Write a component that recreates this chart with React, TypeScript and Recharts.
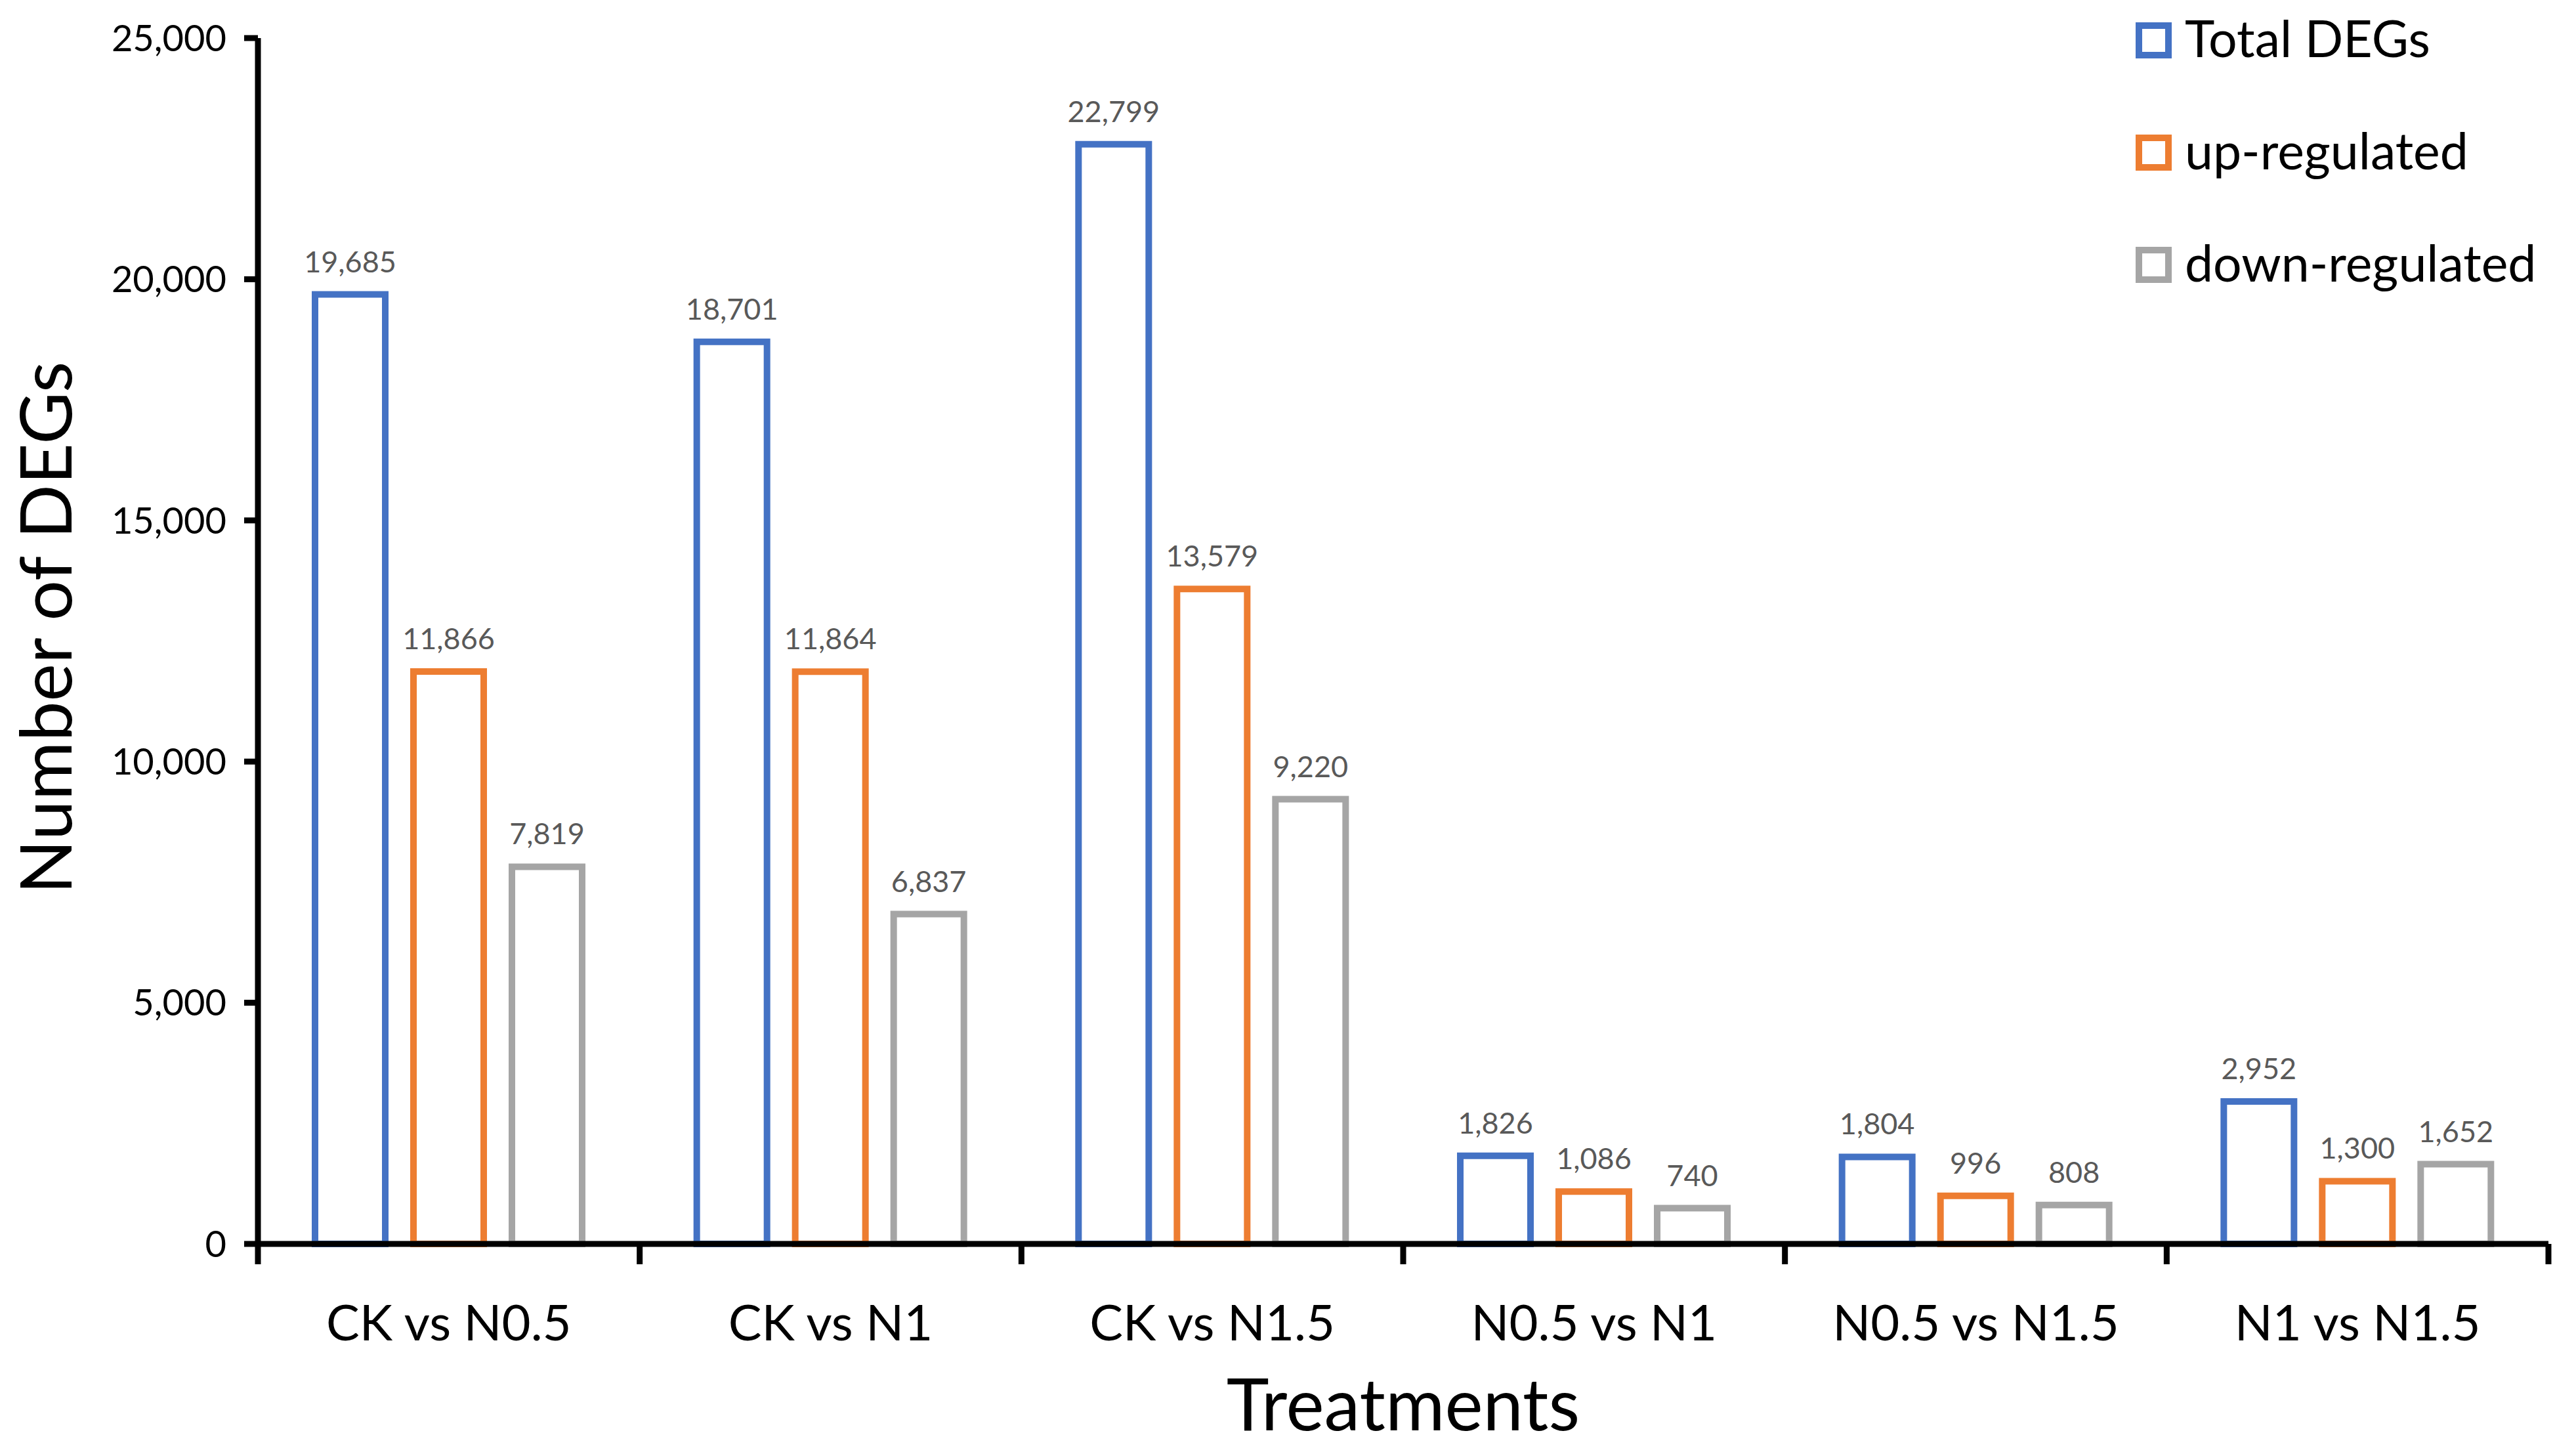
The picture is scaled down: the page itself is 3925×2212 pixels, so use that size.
import React from "react";
import { BarChart, Bar, XAxis, YAxis, Legend, LabelList, Label } from "recharts";

const categories = ["CK vs N0.5", "CK vs N1", "CK vs N1.5", "N0.5 vs N1", "N0.5 vs N1.5", "N1 vs N1.5"];
const totalDegs = [19685, 18701, 22799, 1826, 1804, 2952];
const upRegulated = [11866, 11864, 13579, 1086, 996, 1300];
const downRegulated = [7819, 6837, 9220, 740, 808, 1652];
const yTicks = [0, 5000, 10000, 15000, 20000, 25000];

const series = [
  { key: "total", name: "Total DEGs", color: "#4472C4" },
  { key: "up", name: "up-regulated", color: "#ED7D31" },
  { key: "down", name: "down-regulated", color: "#A5A5A5" },
];

const data = categories.map((name, i) => ({
  name,
  total: totalDegs[i],
  up: upRegulated[i],
  down: downRegulated[i],
}));

const W = 3925;
const H = 2212;
const margin = { top: 58, right: 42, left: 0, bottom: 0 };
const Y_AXIS_W = 393;
const X_AXIS_H = 317;
const plotWidth = W - margin.left - margin.right - Y_AXIS_W;
const band = plotWidth / categories.length;

const fmt = (v: any) => Number(v).toLocaleString("en-US");

// category labels centred, tick marks on the category boundaries
function CategoryTick(props: any) {
  const { x, y, index, payload } = props;
  const last = index === categories.length - 1;
  return (
    <g>
      <line x1={x - band / 2} x2={x - band / 2} y1={y} y2={y + 31} stroke="#000" strokeWidth={9} />
      {last && <line x1={x + band / 2} x2={x + band / 2} y1={y} y2={y + 31} stroke="#000" strokeWidth={9} />}
      <text x={x} y={y + 147} textAnchor="middle" fontSize={76} fill="#000">
        {payload.value}
      </text>
    </g>
  );
}

function LegendBox(props: any) {
  const payload = [...(props.payload ?? [])];
  const order = (e: any) => series.findIndex((s) => s.key === e.dataKey);
  payload.sort((a, b) => order(a) - order(b));
  return (
    <svg width={685} height={460} style={{ fontFamily: "Lato" }}>
      {payload.map((entry: any, i: number) => {
        const s = series.find((d) => d.key === entry.dataKey) ?? series[i];
        return (
          <g key={s.key}>
            <rect x={19} y={39 + i * 171} width={45} height={45} fill="none" stroke={s.color} strokeWidth={10} />
            <text x={89} y={87 + i * 171} fontSize={77} fill="#000">
              {entry.value}
            </text>
          </g>
        );
      })}
    </svg>
  );
}

export default function App() {
  return (
    <div style={{ position: "absolute", left: 0, top: 0, width: W, height: H, background: "#fff", fontFamily: "Lato" }}>
      <BarChart width={W} height={H} data={data} margin={margin} barSize={107} barGap={43}>
        <XAxis
          dataKey="name"
          height={X_AXIS_H}
          axisLine={{ stroke: "#000", strokeWidth: 9 }}
          tickLine={false}
          tickSize={0}
          tickMargin={0}
          tick={<CategoryTick />}
          interval={0}
        >
          <Label value="Treatments" position="insideBottom" offset={33} fontSize={110} fill="#000" />
        </XAxis>
        <YAxis
          width={Y_AXIS_W}
          domain={[0, 25000]}
          ticks={yTicks}
          tickFormatter={fmt}
          axisLine={{ stroke: "#000", strokeWidth: 9 }}
          tickLine={{ stroke: "#000", strokeWidth: 9 }}
          tickSize={21}
          tickMargin={27}
          tick={{ fontSize: 56, fill: "#000" }}
        >
          <Label
            value="Number of DEGs"
            angle={-90}
            position="center"
            dx={70 - Y_AXIS_W / 2}
            dy={-20}
            fontSize={109}
            fill="#000"
          />
        </YAxis>
        <Legend
          layout="vertical"
          align="center"
          verticalAlign="middle"
          itemSorter={null as any}
          content={<LegendBox />}
          wrapperStyle={{ left: 3240, top: 0, width: 685, height: 460 }}
        />
        {series.map((s) => (
          <Bar key={s.key} dataKey={s.key} name={s.name} fill="none" stroke={s.color} strokeWidth={10} isAnimationActive={false}>
            <LabelList dataKey={s.key} position="top" offset={34} formatter={fmt} fontSize={45} fill="#595959" />
          </Bar>
        ))}
      </BarChart>
    </div>
  );
}
